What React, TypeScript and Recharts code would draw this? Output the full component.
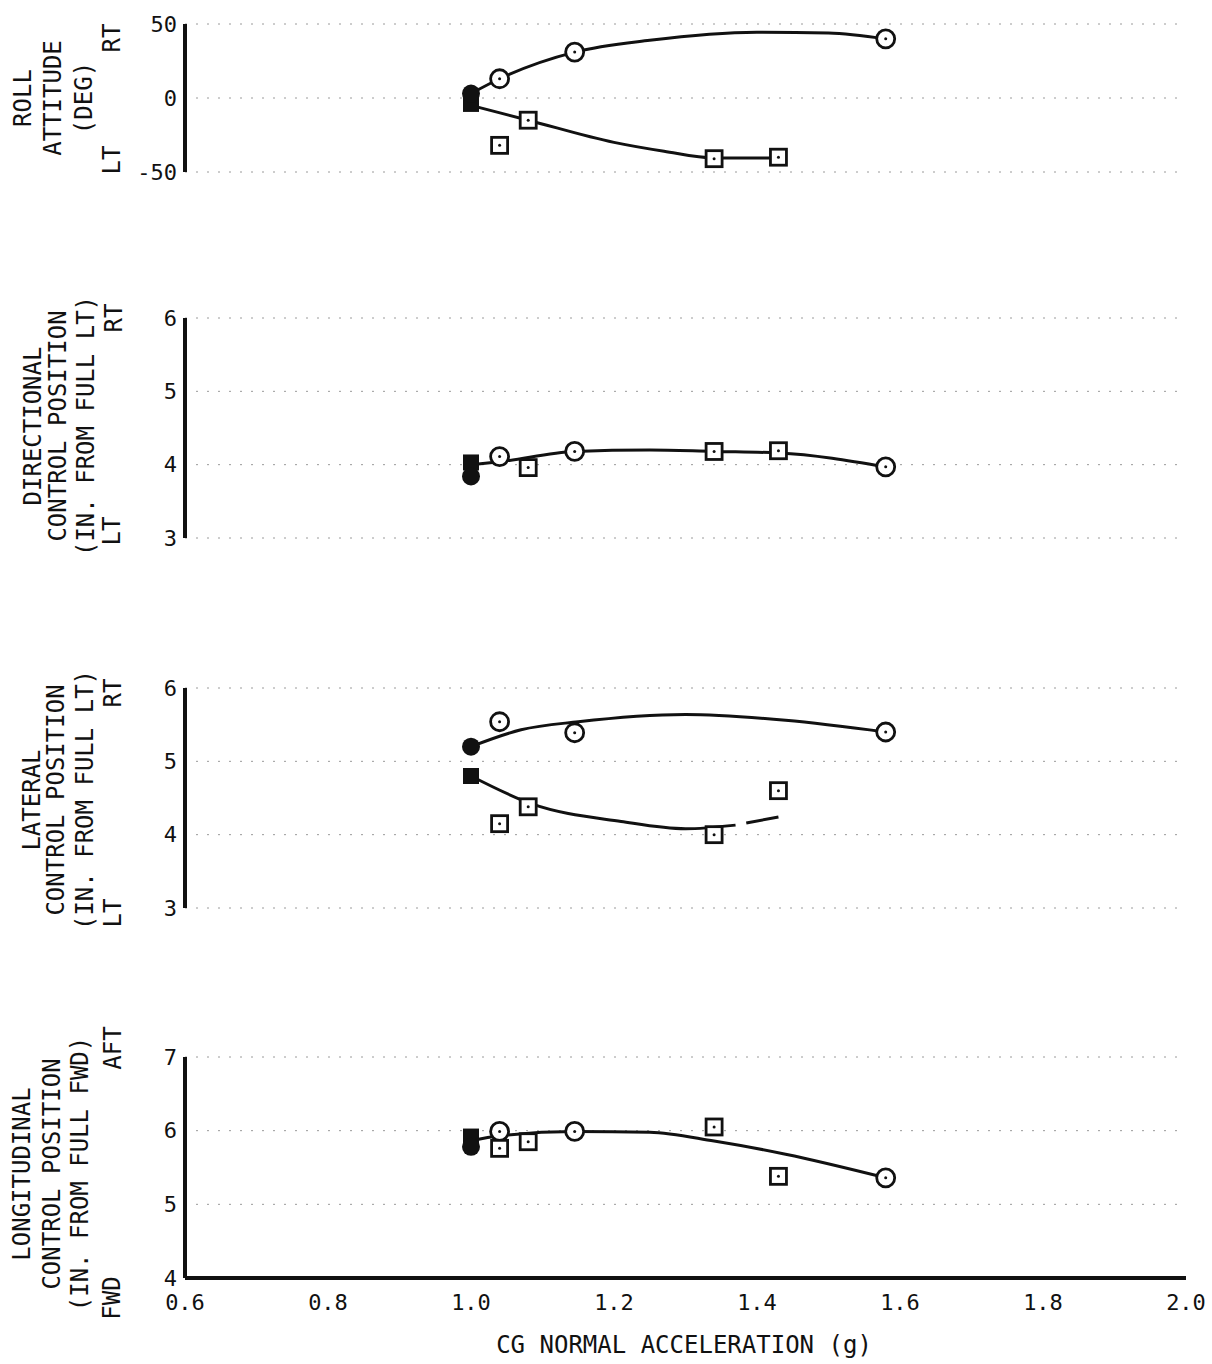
import React from "react";
import {
  ComposedChart,
  Line,
  Scatter,
  XAxis,
  YAxis,
  CartesianGrid,
} from "recharts";

// x axis: CG normal acceleration (g)
const xTicks = [0.6, 0.8, 1.0, 1.2, 1.4, 1.6, 1.8, 2.0];

// roll attitude (deg)
const rollCircles = [
  { x: 1.04, y: 13 },
  { x: 1.145, y: 31 },
  { x: 1.58, y: 40 },
];
const rollSquares = [
  { x: 1.04, y: -32 },
  { x: 1.08, y: -15 },
  { x: 1.34, y: -41 },
  { x: 1.43, y: -40 },
];
const rollFilledCircle = [{ x: 1.0, y: 3 }];
const rollFilledSquare = [{ x: 1.0, y: -4 }];
const rollUpperFit = [
  { x: 1.0, y: 3 },
  { x: 1.04, y: 13 },
  { x: 1.145, y: 31 },
  { x: 1.25, y: 39 },
  { x: 1.4, y: 44.5 },
  { x: 1.5, y: 44 },
  { x: 1.58, y: 40 },
];
const rollLowerFit = [
  { x: 1.0, y: -5 },
  { x: 1.08, y: -15 },
  { x: 1.2, y: -30 },
  { x: 1.27, y: -36 },
  { x: 1.34, y: -40.5 },
  { x: 1.43, y: -40.5 },
];

// directional control position (in. from full LT)
const dirCircles = [
  { x: 1.04, y: 4.11 },
  { x: 1.145, y: 4.18 },
  { x: 1.58, y: 3.97 },
];
const dirSquares = [
  { x: 1.08, y: 3.96 },
  { x: 1.34, y: 4.18 },
  { x: 1.43, y: 4.19 },
];
const dirFilledCircle = [{ x: 1.0, y: 3.84 }];
const dirFilledSquare = [{ x: 1.0, y: 4.03 }];
const dirFit = [
  { x: 1.0, y: 4.0 },
  { x: 1.04, y: 4.04 },
  { x: 1.145, y: 4.18 },
  { x: 1.25, y: 4.2 },
  { x: 1.34, y: 4.18 },
  { x: 1.43, y: 4.16 },
  { x: 1.58, y: 3.97 },
];

// lateral control position (in. from full LT)
const latCircles = [
  { x: 1.04, y: 5.54 },
  { x: 1.145, y: 5.39 },
  { x: 1.58, y: 5.4 },
];
const latSquares = [
  { x: 1.04, y: 4.15 },
  { x: 1.08, y: 4.38 },
  { x: 1.34, y: 4.0 },
  { x: 1.43, y: 4.6 },
];
const latFilledCircle = [{ x: 1.0, y: 5.2 }];
const latFilledSquare = [{ x: 1.0, y: 4.8 }];
const latUpperFit = [
  { x: 1.0, y: 5.2 },
  { x: 1.07, y: 5.43 },
  { x: 1.15, y: 5.54 },
  { x: 1.3, y: 5.64 },
  { x: 1.44, y: 5.56 },
  { x: 1.58, y: 5.4 },
];
const latLowerFit = [
  { x: 1.0, y: 4.8 },
  { x: 1.085, y: 4.42 },
  { x: 1.21, y: 4.18 },
  { x: 1.3, y: 4.08 },
  { x: 1.37, y: 4.13 },
];
const latLowerTail = [
  { x: 1.385, y: 4.16 },
  { x: 1.43, y: 4.24 },
];

// longitudinal control position (in. from full FWD)
const lonCircles = [
  { x: 1.04, y: 5.99 },
  { x: 1.145, y: 5.99 },
  { x: 1.58, y: 5.36 },
];
const lonSquares = [
  { x: 1.04, y: 5.76 },
  { x: 1.08, y: 5.85 },
  { x: 1.34, y: 6.05 },
  { x: 1.43, y: 5.38 },
];
const lonFilledCircle = [{ x: 1.0, y: 5.78 }];
const lonFilledSquare = [{ x: 1.0, y: 5.92 }];
const lonFit = [
  { x: 1.0, y: 5.86 },
  { x: 1.04, y: 5.93 },
  { x: 1.145, y: 5.99 },
  { x: 1.25, y: 5.98 },
  { x: 1.34, y: 5.86 },
  { x: 1.44, y: 5.68 },
  { x: 1.58, y: 5.36 },
];

const FONT = "'DejaVu Sans Mono', 'Liberation Mono', monospace";
const INK = "#111";

const OpenCircle = (p: any) => (
  <g>
    <circle cx={p.cx} cy={p.cy} r={9} fill="#fff" stroke={INK} strokeWidth={2.8} />
    <circle cx={p.cx} cy={p.cy} r={1.5} fill={INK} />
  </g>
);
const OpenSquare = (p: any) => (
  <g>
    <rect x={p.cx - 8} y={p.cy - 8} width={16} height={16} fill="#fff" stroke={INK} strokeWidth={2.8} />
    <circle cx={p.cx} cy={p.cy} r={1.5} fill={INK} />
  </g>
);
const FilledCircle = (p: any) => <circle cx={p.cx} cy={p.cy} r={9} fill={INK} />;
const FilledSquare = (p: any) => (
  <rect x={p.cx - 8} y={p.cy - 8} width={16} height={16} fill={INK} />
);

const tickStyle = { fontSize: 22, fontFamily: FONT, fill: INK };

interface PanelProps {
  top: number;
  height: number;
  marginTop: number;
  marginBottom: number;
  domain: [number, number];
  yTicks: number[];
  fits: { x: number; y: number }[][];
  circles: { x: number; y: number }[];
  squares: { x: number; y: number }[];
  filledCircle: { x: number; y: number }[];
  filledSquare: { x: number; y: number }[];
  showX?: boolean;
}

function Panel(props: PanelProps) {
  const { top, height, marginTop, marginBottom, domain, yTicks, fits, showX } = props;
  return (
    <div style={{ position: "absolute", left: 0, top }}>
      <ComposedChart
        width={1212}
        height={height}
        margin={{ top: marginTop, right: 26, left: 125, bottom: marginBottom }}
      >
        <CartesianGrid
          horizontal
          vertical={false}
          stroke="#9a9a9a"
          strokeDasharray="2 9"
        />
        <XAxis
          type="number"
          dataKey="x"
          domain={[0.6, 2.0]}
          ticks={xTicks}
          hide={!showX}
          allowDataOverflow
          axisLine={{ stroke: INK, strokeWidth: 4 }}
          tickLine={false}
          tick={tickStyle}
          tickMargin={10}
          height={40}
          tickFormatter={(v) => v.toFixed(1)}
        />
        <YAxis
          type="number"
          dataKey="y"
          domain={domain}
          ticks={yTicks}
          width={60}
          allowDataOverflow
          axisLine={{ stroke: INK, strokeWidth: 4 }}
          tickLine={false}
          tick={tickStyle}
        />
        {fits.map((d, i) => (
          <Line
            key={i}
            data={d}
            dataKey="y"
            type="monotone"
            stroke={INK}
            strokeWidth={3}
            dot={false}
            activeDot={false}
            isAnimationActive={false}
          />
        ))}
        <Scatter data={props.circles} dataKey="y" shape={OpenCircle} isAnimationActive={false} />
        <Scatter data={props.squares} dataKey="y" shape={OpenSquare} isAnimationActive={false} />
        <Scatter data={props.filledSquare} dataKey="y" shape={FilledSquare} isAnimationActive={false} />
        <Scatter data={props.filledCircle} dataKey="y" shape={FilledCircle} isAnimationActive={false} />
      </ComposedChart>
    </div>
  );
}

// rotated multi-line axis title
function VTitle({ lines, xs, cy }: { lines: string[]; xs: number[]; cy: number }) {
  return (
    <>
      {lines.map((t, i) => (
        <text
          key={t}
          x={xs[i]}
          y={cy}
          transform={`rotate(-90 ${xs[i]} ${cy})`}
          textAnchor="middle"
          dominantBaseline="central"
          fontSize={24}
          fontFamily={FONT}
          fill={INK}
        >
          {t}
        </text>
      ))}
    </>
  );
}

function VText({ text, x, y }: { text: string; x: number; y: number }) {
  return (
    <text
      x={x}
      y={y}
      transform={`rotate(-90 ${x} ${y})`}
      textAnchor="middle"
      dominantBaseline="central"
      fontSize={24}
      fontFamily={FONT}
      fill={INK}
    >
      {text}
    </text>
  );
}

export default function App() {
  return (
    <div
      style={{
        position: "absolute",
        left: 0,
        top: 0,
        width: 1212,
        height: 1364,
        background: "#fff",
        overflow: "hidden",
      }}
    >
      <Panel
        top={0}
        height={200}
        marginTop={24}
        marginBottom={28}
        domain={[-50, 50]}
        yTicks={[-50, 0, 50]}
        fits={[rollUpperFit, rollLowerFit]}
        circles={rollCircles}
        squares={rollSquares}
        filledCircle={rollFilledCircle}
        filledSquare={rollFilledSquare}
      />
      <Panel
        top={290}
        height={278}
        marginTop={28}
        marginBottom={30}
        domain={[3, 6]}
        yTicks={[3, 4, 5, 6]}
        fits={[dirFit]}
        circles={dirCircles}
        squares={dirSquares}
        filledCircle={dirFilledCircle}
        filledSquare={dirFilledSquare}
      />
      <Panel
        top={660}
        height={278}
        marginTop={28}
        marginBottom={30}
        domain={[3, 6]}
        yTicks={[3, 4, 5, 6]}
        fits={[latUpperFit, latLowerFit, latLowerTail]}
        circles={latCircles}
        squares={latSquares}
        filledCircle={latFilledCircle}
        filledSquare={latFilledSquare}
      />
      <Panel
        top={1030}
        height={298}
        marginTop={27}
        marginBottom={10}
        domain={[4, 7]}
        yTicks={[4, 5, 6, 7]}
        fits={[lonFit]}
        circles={lonCircles}
        squares={lonSquares}
        filledCircle={lonFilledCircle}
        filledSquare={lonFilledSquare}
        showX
      />
      <svg
        width={1212}
        height={1364}
        style={{ position: "absolute", left: 0, top: 0, pointerEvents: "none" }}
      >
        <VTitle lines={["ROLL", "ATTITUDE", "(DEG)"]} xs={[23, 53, 84]} cy={98} />
        <VText text="RT" x={112} y={38} />
        <VText text="LT" x={112} y={160} />

        <VTitle
          lines={["DIRECTIONAL", "CONTROL POSITION", "(IN. FROM FULL LT)"]}
          xs={[33, 58, 86]}
          cy={426}
        />
        <VText text="RT" x={114} y={318} />
        <VText text="LT" x={112} y={531} />

        <VTitle
          lines={["LATERAL", "CONTROL POSITION", "(IN. FROM FULL LT)"]}
          xs={[32, 56, 85]}
          cy={800}
        />
        <VText text="RT" x={113} y={693} />
        <VText text="LT" x={113} y={913} />

        <VTitle
          lines={["LONGITUDINAL", "CONTROL POSITION", "(IN. FROM FULL FWD)"]}
          xs={[22, 52, 80]}
          cy={1174}
        />
        <VText text="AFT" x={113} y={1048} />
        <VText text="FWD" x={112} y={1298} />

        <text
          x={684}
          y={1345}
          textAnchor="middle"
          dominantBaseline="central"
          fontSize={24}
          fontFamily={FONT}
          fill={INK}
        >
          CG NORMAL ACCELERATION (g)
        </text>
      </svg>
    </div>
  );
}
